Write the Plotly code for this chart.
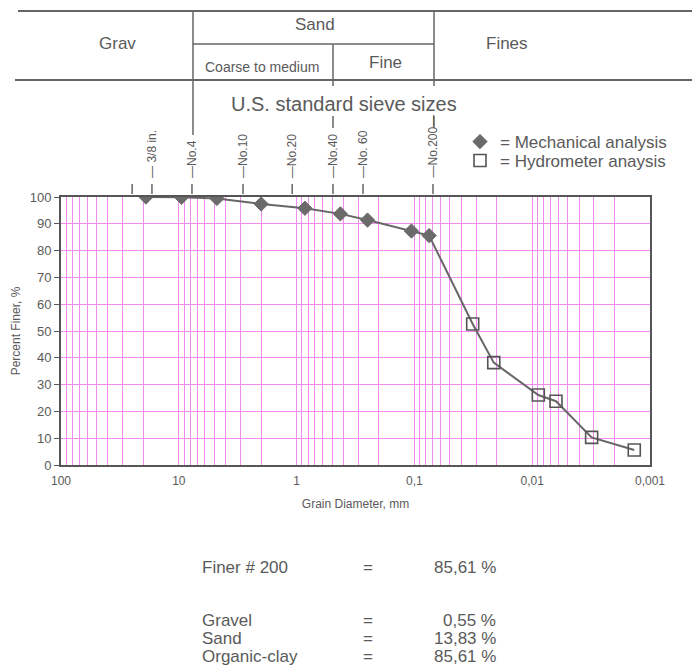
import math
import plotly.graph_objects as go

W, H = 692, 671

# ---- data ----
mech_d = [19.0, 9.5, 4.75, 2.0, 0.85, 0.425, 0.25, 0.106, 0.075]
mech_p = [100.0, 99.9, 99.45, 97.4, 95.8, 93.7, 91.4, 87.3, 85.61]
hyd_d = [0.0320, 0.0212, 0.00887, 0.00628, 0.00313, 0.00136]
hyd_p = [52.6, 38.2, 26.1, 23.8, 10.3, 5.6]

sieve_labels = ["", "3/8 in.", "No.4", "No.10", "No.20", "No.40", "No. 60", "No.200"]
sieve_pos = [24.9, 16.9, 7.73, 2.85, 1.09, 0.491, 0.273, 0.0695]

decade_vals = [100, 10, 1, 0.1, 0.01, 0.001]
decade_text = ["100", "10", "1", "0,1", "0,01", "0,001"]

summary_names = ["Finer # 200", "Gravel", "Sand", "Organic-clay"]
summary_vals = ["85,61 %", "0,55 %", "13,83 %", "85,61 %"]

TXT = "#5a5a5a"
GRID = "#f08cf0"
FONT = "Liberation Sans, Arial, sans-serif"


def px(x):
    return x / W


def py(y):
    return 1 - y / H


# log grid tick values
tickvals, ticktext = [], []
for k in range(-3, 2):
    for d in range(1, 10):
        v = d * 10 ** k
        tickvals.append(v)
        ticktext.append("")
tickvals.append(100)
ticktext.append("")
for v, t in zip(decade_vals, decade_text):
    for i, tv in enumerate(tickvals):
        if abs(tv - v) / v < 1e-9:
            ticktext[i] = t

fig = go.Figure()
fig.add_trace(go.Scatter(x=mech_d + hyd_d, y=mech_p + hyd_p, mode="lines",
                         line=dict(color="#666666", width=2), showlegend=False,
                         hoverinfo="skip"))
fig.add_trace(go.Scatter(x=mech_d, y=mech_p, mode="markers", name="= Mechanical analysis",
                         legend="legend",
                         marker=dict(symbol="diamond", size=11, color="#6a6a6a",
                                     line=dict(color="#6a6a6a", width=1))))
fig.add_trace(go.Scatter(x=hyd_d, y=hyd_p, mode="markers", name="= Hydrometer anaysis",
                         legend="legend2",
                         marker=dict(symbol="square-open", size=12, color="#555555",
                                     line=dict(width=1.6))))

fig.update_xaxes(type="log", range=[2, -3], domain=[px(61), px(650)], automargin=False,
                 tickmode="array", tickvals=tickvals, ticktext=ticktext,
                 showgrid=True, gridcolor=GRID, gridwidth=1,
                 showline=True, linecolor="#555555", linewidth=2, mirror=True,
                 ticks="", zeroline=False, ticklabelstandoff=4,
                 tickfont=dict(size=12, color=TXT, family=FONT),
                 title=dict(text="Grain Diameter, mm", font=dict(size=12, color=TXT, family=FONT),
                            standoff=12))
fig.update_yaxes(range=[0, 100], dtick=10, domain=[py(465), py(197)], automargin=False,
                 showgrid=True, gridcolor=GRID, gridwidth=1,
                 showline=True, linecolor="#555555", linewidth=2, mirror=True,
                 ticks="outside", ticklen=5, tickcolor="#555555", zeroline=False,
                 tickfont=dict(size=13, color=TXT, family=FONT),
                 title=dict(text="Percent Finer, %", font=dict(size=12, color=TXT, family=FONT),
                            standoff=6))

shapes = []
LC = "#666666"


def hline(x0, x1, y, w=2):
    shapes.append(dict(type="line", xref="paper", yref="paper", x0=px(x0), x1=px(x1),
                       y0=py(y), y1=py(y), line=dict(color=LC, width=w)))


def vline(x, y0, y1, w=1.5):
    shapes.append(dict(type="line", xref="paper", yref="paper", x0=px(x), x1=px(x),
                       y0=py(y0), y1=py(y1), line=dict(color=LC, width=w)))


hline(18, 692, 11)
hline(15, 692, 80)
hline(193, 434, 44, 1.5)
vline(193, 11, 135)
vline(333, 44, 86)
vline(434, 11, 86)
vline(333, 116, 128)
vline(434, 116, 128)

# small ticks under sieve labels
for s in sieve_pos:
    shapes.append(dict(type="line", xref="x", yref="paper", x0=s, x1=s,
                       y0=py(184), y1=py(194), line=dict(color=LC, width=1.5)))

ann = []


def text(x, y, t, size=14, xanchor="center", angle=0, yanchor="middle", xref="paper"):
    ann.append(dict(x=x if xref != "paper" else px(x), y=py(y), xref=xref, yref="paper",
                    text=t, showarrow=False, xanchor=xanchor, yanchor=yanchor,
                    textangle=angle, font=dict(size=size, color=TXT, family=FONT)))


text(117, 44, "Grav", 17)
text(315, 25, "Sand", 17)
text(262, 67, "Coarse to medium", 14)
text(385, 62, "Fine", 17)
text(507, 44, "Fines", 17)
text(344, 104, "U.S. standard sieve sizes", 20)

for lab, s in zip(sieve_labels, sieve_pos):
    if not lab:
        continue
    t = "\u2014 " + lab if lab == "3/8 in." else "\u2014" + lab
    if lab == "No.200":
        t = t + "\u2014"
    # annotations on a log axis take log10 positions
    text(math.log10(s), 180, t, 12, angle=-90, yanchor="bottom", xref="x")

rows_y = [567, 620, 638, 656]
for name, val, yy in zip(summary_names, summary_vals, rows_y):
    text(200, yy, name, 17, xanchor="left")
    text(368, yy, "=", 17)
    text(498, yy, val, 17, xanchor="right")

leg_common = dict(xanchor="left", yanchor="middle", bgcolor="rgba(0,0,0,0)",
                  font=dict(size=17, color=TXT, family=FONT), itemwidth=30)
fig.update_layout(width=W, height=H, margin=dict(l=0, r=0, t=0, b=0),
                  paper_bgcolor="white", plot_bgcolor="white",
                  shapes=shapes, annotations=ann,
                  legend=dict(x=px(460), y=py(142), **leg_common),
                  legend2=dict(x=px(460), y=py(161), **leg_common))
fig.write_html("out.html")
